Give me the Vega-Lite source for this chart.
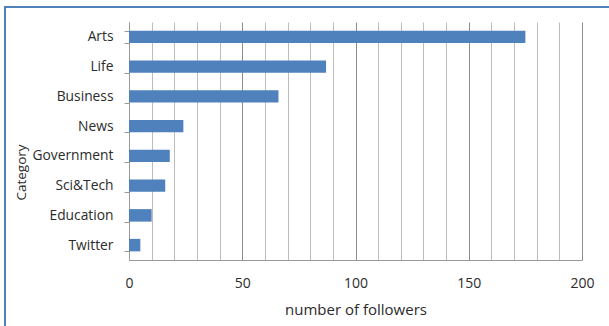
{
  "$schema": "https://vega.github.io/schema/vega-lite/v6.json",
  "width": 606,
  "height": 321,
  "autosize": {"type": "none"},
  "padding": {"left": 5, "top": 7, "right": 0, "bottom": 0},
  "background": "white",
  "config": {
    "view": {"stroke": "#4F81BD", "strokeWidth": 2},
    "font": "Open Sans"
  },
  "data": {
    "values": [
      {"category": "Arts", "followers": 175},
      {"category": "Life", "followers": 87},
      {"category": "Business", "followers": 66},
      {"category": "News", "followers": 24},
      {"category": "Government", "followers": 18},
      {"category": "Sci&Tech", "followers": 16},
      {"category": "Education", "followers": 10},
      {"category": "Twitter", "followers": 5}
    ]
  },
  "encoding": {
    "y": {
      "field": "category",
      "type": "nominal",
      "sort": null,
      "scale": {"range": [15, 253], "paddingInner": 0.58, "paddingOuter": 0.29},
      "axis": {
        "title": "Category",
        "offset": -124,
        "grid": false,
        "domainColor": "#999999",
        "tickColor": "#999999",
        "tickSize": 5,
        "tickBand": "extent",
        "labelPadding": 11,
        "labelFontSize": 13.8,
        "labelColor": "#2b2b2b",
        "titleFontSize": 13.5,
        "titleFontWeight": "normal",
        "titleColor": "#2b2b2b",
        "titleAngle": 270,
        "titleAlign": "center",
        "titleBaseline": "middle",
        "titleX": -108,
        "titleY": 165
      }
    }
  },
  "layer": [
    {
      "mark": {"type": "bar", "color": "#4F81BD"},
      "encoding": {
        "x": {
          "field": "followers",
          "type": "quantitative",
          "scale": {"domain": [0, 200], "range": [124, 577], "nice": false},
          "axis": {
            "orient": "top",
            "title": null,
            "values": [0, 10, 20, 30, 40, 50, 60, 70, 80, 90, 100, 110, 120, 130, 140, 150, 160, 170, 180, 190, 200],
            "labels": false,
            "ticks": false,
            "domain": false,
            "grid": true,
            "gridColor": {"condition": {"test": "datum.value % 50 === 0", "value": "#8c8c8c"}, "value": "#bdbdbd"},
            "gridOpacity": 1
          }
        }
      }
    },
    {
      "mark": {"type": "bar", "opacity": 0},
      "encoding": {
        "x": {
          "field": "followers",
          "type": "quantitative",
          "axis": {
            "orient": "bottom",
            "title": "number of followers",
            "offset": -68,
            "values": [0, 50, 100, 150, 200],
            "ticks": false,
            "grid": false,
            "domainColor": "#999999",
            "labelPadding": 16,
            "labelFontSize": 14,
            "labelColor": "#2b2b2b",
            "labelFlush": false,
            "titleFontSize": 15,
            "titleFontWeight": "normal",
            "titleColor": "#2b2b2b",
            "titlePadding": 12
          }
        }
      }
    }
  ],
  "resolve": {"axis": {"x": "independent"}}
}
